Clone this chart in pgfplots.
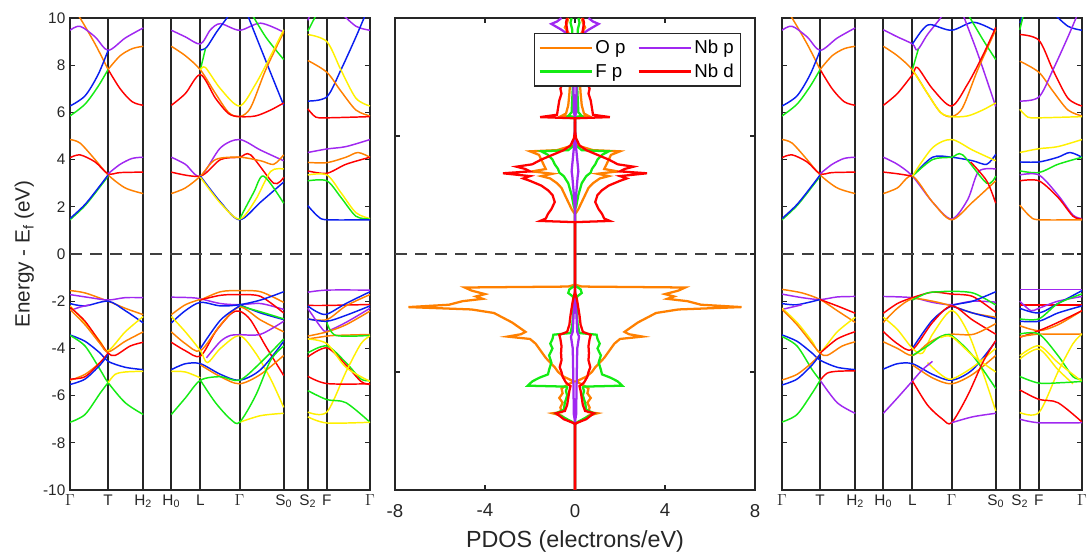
\documentclass[border=0pt]{standalone}
\usepackage{pgfplots}
\pgfplotsset{compat=1.18}
\usepackage{pgfplotstable}
\usepackage{fontspec}
\setmainfont{Liberation Sans}
\definecolor{cor}{RGB}{255,128,0}
\definecolor{cgr}{RGB}{20,235,20}
\definecolor{cpu}{RGB}{160,40,240}
\definecolor{cye}{RGB}{255,240,0}
\definecolor{cbl}{RGB}{10,30,240}
\definecolor{cre}{RGB}{255,0,0}
\definecolor{frm}{RGB}{38,38,38}

\pgfplotstableread{
x y
0 -10
0 -7.2
0.1 -7.15
0.4 -7.0
0.6 -6.85
1.0 -6.75
0.6 -6.7
0.65 -6.5
0.55 -6.3
0.7 -6.1
0.55 -5.9
0.6 -5.7
0.35 -5.55
0.05 -5.4
0.5 -5.2
0.75 -5.0
0.9 -4.8
1.1 -4.6
1.3 -4.4
1.45 -4.2
1.6 -4.0
1.75 -3.8
2.0 -3.6
3.0 -3.5
2.4 -3.4
2.2 -3.3
2.5 -3.1
2.8 -2.9
3.2 -2.7
3.6 -2.5
4.6 -2.35
7.4 -2.25
5.6 -2.15
5.0 -2.0
4.1 -1.9
4.4 -1.8
4.0 -1.7
4.6 -1.55
4.9 -1.42
0.3 -1.38
0 -1.3
0 1.7
0.05 1.75
0.15 1.9
0.3 2.2
0.45 2.5
0.6 2.8
0.8 3.0
1.1 3.2
1.5 3.3
1.0 3.4
1.9 3.5
1.3 3.6
1.4 3.8
1.5 4.0
1.6 4.2
2.0 4.35
0.8 4.4
0.1 4.6
0.05 4.8
0 5.0
0 5.8
0.6 5.85
0.4 5.95
0.3 6.3
0.25 6.8
0.2 7.5
0.2 8.5
0.25 9.3
0.45 9.6
0.35 9.8
0.3 10
}\tOr
\pgfplotstableread{
x y
0 -10
0 -7.2
0.15 -7.1
0.55 -6.9
0.85 -6.75
0.5 -6.6
0.45 -6.3
0.35 -6.0
0.4 -5.8
0.35 -5.65
0.4 -5.62
2.1 -5.58
1.9 -5.4
1.6 -5.25
1.2 -5.1
1.15 -4.9
1.05 -4.6
1.15 -4.3
1.0 -4.0
1.1 -3.8
1.0 -3.6
0.96 -3.42
0.2 -3.35
0.12 -3.0
0.08 -2.5
0.05 -2.0
0.1 -1.8
0.3 -1.65
0.25 -1.5
0.1 -1.4
0 -1.35
0 1.9
0.05 2.0
0.15 2.5
0.3 3.0
0.5 3.3
0.7 3.45
0.75 3.6
0.9 3.8
1.0 4.0
1.2 4.2
1.5 4.35
0.3 4.4
0.05 4.6
0 5.0
0 5.8
0.3 5.85
0.15 6.0
0.1 7.0
0.12 9.5
0.2 9.8
0.15 10
}\tGr
\pgfplotstableread{
x y
0 -10
0 -7.1
0.05 -6.8
0.08 -5.0
0.1 -4.0
0.18 -3.5
0.1 -3.3
0.06 -2.5
0.03 -2.0
0 -1.5
0 1.8
0.05 2.5
0.12 3.3
0.15 3.5
0.1 4.0
0.05 4.5
0.02 5.0
0 5.8
0.05 6.0
0.08 8.0
0.15 9.2
0.6 9.5
1.05 9.75
0.8 9.85
0.6 10
}\tPu
\pgfplotstableread{
x y
0 -10
0 -7.2
0.1 -7.15
0.5 -7.0
0.7 -6.85
0.85 -6.75
0.45 -6.65
0.35 -6.4
0.3 -6.1
0.25 -5.8
0.2 -5.6
0.4 -5.45
0.55 -5.2
0.6 -5.0
0.68 -4.8
0.6 -4.5
0.62 -4.2
0.6 -3.9
0.65 -3.6
0.7 -3.43
0.35 -3.3
0.25 -3.0
0.2 -2.6
0.15 -2.3
0.1 -2.0
0.05 -1.8
0 -1.6
0 1.35
1.55 1.4
1.3 1.5
1.2 1.7
1.05 1.9
0.9 2.2
1.0 2.5
1.2 2.7
1.5 2.9
2.0 3.1
2.3 3.2
2.0 3.3
3.2 3.42
2.0 3.5
2.2 3.6
2.6 3.7
1.9 3.8
1.5 4.0
1.0 4.2
0.5 4.4
0.2 4.6
0.05 4.9
0 5.2
0 5.75
1.55 5.8
0.8 5.9
0.75 6.2
0.7 6.5
0.6 6.8
0.65 7.0
0.45 7.5
0.35 8.5
0.35 9.5
0.4 9.8
0.35 10
}\tRe

\pgfplotsset{
  bnd/.style={line width=1.1pt, smooth, no markers, forget plot},
  zl/.style={color=black!75, line width=1.5pt, dash pattern=on 9pt off 6pt, forget plot},
  pd/.style={line width=1.7pt, no markers, forget plot},
  base/.style={
    scale only axis, height=354pt, ymin=-10, ymax=10,
    tick align=inside, major tick length=3.75pt,
    axis line style={frm, line width=0.9pt},
    tick style={frm, line width=0.8pt},
    ticklabel style={font=\fontsize{11.5}{13}\selectfont, text=frm},
    label style={font=\fontsize{15.5}{18}\selectfont, text=frm},
  },
  band/.style={
    base, width=225pt, xmin=0, xmax=299,
    xtick={0,38,73,101,130,169,213,237,256,299},
    xticklabels={$\Gamma$,T,H\textsubscript{2},H\textsubscript{0},L,$\Gamma$,S\textsubscript{0},S\textsubscript{2},F,$\Gamma$},
    xmajorgrids, major grid style={frm, line width=1.5pt},
    ytick={-10,-8,...,10},
  },
}

\begin{document}
\begin{tikzpicture}
\path[use as bounding box] (0,0) rectangle (816.75pt,416.25pt);

% ---------------- left band structure ----------------
\begin{axis}[band, at={(52.5pt,48.75pt)}, anchor=south west,
  yticklabels={-10,-8,-6,-4,-2,0,2,4,6,8,10},
  ylabel={Energy - E\textsubscript{f} (eV)}]
% seg A conduction
\addplot[bnd,cor] coordinates {(0,10.6)(10,10.0)(25,8.9)(38,7.82)};
\addplot[bnd,cre] coordinates {(38,7.82)(50,7.0)(62,6.45)(73,6.3)};
\addplot[bnd,cpu] coordinates {(0,9.48)(10,9.65)(25,9.2)(38,8.63)(55,9.15)(73,9.58)};
\addplot[bnd,cbl] coordinates {(0,6.27)(15,6.7)(28,7.6)(38,8.63)};
\addplot[bnd,cgr] coordinates {(0,5.85)(15,6.35)(28,7.1)(38,7.82)};
\addplot[bnd,cor] coordinates {(38,7.82)(50,8.4)(62,8.7)(73,8.8)};
\addplot[bnd,cor] coordinates {(0,4.85)(10,4.7)(25,4.0)(38,3.35)(55,2.8)(73,2.56)};
\addplot[bnd,cre] coordinates {(0,4.08)(10,4.2)(25,3.9)(38,3.4)(50,3.45)(73,3.47)};
\addplot[bnd,cpu] coordinates {(38,3.4)(50,3.8)(62,4.05)(73,4.1)};
\addplot[bnd,cgr] coordinates {(0,1.45)(15,2.05)(30,2.85)(38,3.3)};
\addplot[bnd,cbl] coordinates {(0,1.5)(15,2.1)(30,2.9)(38,3.35)};
% seg A valence
\addplot[bnd,cor] coordinates {(0,-1.55)(15,-1.65)(38,-2.0)(55,-2.3)(73,-2.57)};
\addplot[bnd,cpu] coordinates {(0,-1.72)(20,-1.85)(38,-1.95)(55,-1.85)(73,-1.85)};
\addplot[bnd,cbl] coordinates {(0,-2.1)(15,-2.2)(38,-2.0)(55,-2.4)(73,-2.92)};
\addplot[bnd,cpu] coordinates {(0,-2.4)(10,-2.25)(20,-2.15)};
\addplot[bnd,cye] coordinates {(0,-2.2)(15,-2.9)(30,-3.7)(38,-4.1)(55,-3.3)(73,-2.65)};
\addplot[bnd,cre] coordinates {(0,-2.25)(15,-2.85)(30,-3.75)(38,-4.2)(45,-4.3)(60,-3.9)(73,-3.74)};
\addplot[bnd,cor] coordinates {(0,-2.35)(15,-3.0)(30,-3.8)(38,-4.15)(55,-3.7)(73,-3.3)};
\addplot[bnd,cbl] coordinates {(0,-3.43)(15,-3.7)(30,-4.2)(38,-4.55)(55,-4.8)(73,-4.9)};
\addplot[bnd,cgr] coordinates {(0,-3.45)(15,-3.9)(30,-4.9)(38,-5.45)(55,-6.3)(73,-6.8)};
\addplot[bnd,cgr] coordinates {(0,-7.13)(15,-6.8)(30,-5.9)(38,-5.45)};
\addplot[bnd,cye] coordinates {(38,-5.45)(45,-5.1)(55,-5.0)(73,-4.97)};
\addplot[bnd,cor] coordinates {(0,-5.35)(15,-5.1)(30,-4.6)(38,-4.25)};
\addplot[bnd,cre] coordinates {(0,-5.3)(15,-5.2)(30,-4.6)(38,-4.2)};
\addplot[bnd,cbl] coordinates {(0,-5.53)(15,-5.3)(30,-4.7)(38,-4.25)};
% seg B conduction
\addplot[bnd,cpu] coordinates {(101,9.48)(115,9.2)(130,8.9)(140,9.5)(150,9.76)(169,9.48)(190,9.78)(213,9.4)};
\addplot[bnd,cbl] coordinates {(130,8.65)(136,8.75)(146,9.4)(158,10.1)(165,10.6)};
\addplot[bnd,cbl] coordinates {(173,10.6)(180,9.8)(195,8.2)(213,6.3)};
\addplot[bnd,cgr] coordinates {(130,7.82)(135,8.7)};
\addplot[bnd,cgr] coordinates {(178,10.4)(195,9.2)(213,8.24)};
\addplot[bnd,cor] coordinates {(101,8.8)(115,8.4)(130,7.8)(145,6.8)(158,6.0)(169,5.82)(180,6.2)(195,7.8)(213,9.4)};
\addplot[bnd,cre] coordinates {(101,6.3)(115,6.8)(130,7.6)(145,6.6)(158,5.95)(169,5.82)(185,5.85)(200,6.1)(213,6.4)};
\addplot[bnd,cye] coordinates {(130,7.8)(135,7.9)(150,7.0)(169,6.27)(185,7.2)(200,8.4)(213,9.5)};
\addplot[bnd,cpu] coordinates {(101,4.1)(115,3.8)(130,3.3)(150,4.5)(169,4.85)(190,4.4)(213,3.95)};
\addplot[bnd,cre] coordinates {(101,3.47)(130,3.3)(150,4.0)(169,4.1)(180,4.2)(203,3.0)(213,3.25)};
\addplot[bnd,cor] coordinates {(101,2.56)(115,2.8)(130,3.3)(145,4.0)(169,4.1)(190,3.95)(203,3.8)(213,4.2)};
\addplot[bnd,cbl] coordinates {(130,3.3)(150,2.2)(169,1.45)(190,2.2)(213,3.05)};
\addplot[bnd,cye] coordinates {(130,3.25)(150,2.15)(169,1.48)(185,2.3)(200,3.5)(213,3.6)};
\addplot[bnd,cgr] coordinates {(169,1.48)(183,2.6)(193,3.3)(213,2.15)};
% seg B valence
\addplot[bnd,cpu] coordinates {(101,-1.83)(120,-1.85)(130,-1.9)(150,-2.1)(169,-2.15)(190,-2.1)(213,-2.35)};
\addplot[bnd,cor] coordinates {(130,-1.95)(150,-1.6)(169,-1.55)(190,-1.6)(213,-2.05)};
\addplot[bnd,cre] coordinates {(130,-1.95)(150,-1.75)(169,-1.72)(190,-1.8)(213,-2.5)};
\addplot[bnd,cbl] coordinates {(101,-2.92)(115,-2.4)(130,-2.05)(150,-2.2)(169,-2.15)(190,-1.95)(213,-1.6)};
\addplot[bnd,cor] coordinates {(101,-2.57)(115,-2.15)(130,-1.92)};
\addplot[bnd,cbl] coordinates {(169,-2.15)(190,-2.5)(213,-2.78)};
\addplot[bnd,cgr] coordinates {(169,-2.2)(190,-2.45)(213,-2.75)};
\addplot[bnd,cre] coordinates {(101,-3.74)(115,-4.1)(130,-4.33)(145,-3.3)(160,-2.55)(169,-2.42)(180,-2.8)(195,-3.9)(213,-5.15)};
\addplot[bnd,cor] coordinates {(101,-3.3)(115,-3.8)(130,-4.1)(150,-3.0)(169,-2.25)(190,-2.8)(213,-3.3)};
\addplot[bnd,cye] coordinates {(101,-2.65)(115,-3.3)(130,-4.1)(137,-4.6)(150,-4.0)(169,-3.46)(185,-4.2)(200,-5.3)(213,-6.5)};
\addplot[bnd,cye] coordinates {(101,-4.97)(115,-5.0)(130,-5.25)};
\addplot[bnd,cye] coordinates {(169,-7.13)(190,-6.85)(213,-6.75)};
\addplot[bnd,cpu] coordinates {(136,-4.4)(150,-3.7)(160,-3.45)(169,-3.42)(190,-3.4)(213,-2.85)};
\addplot[bnd,cbl] coordinates {(101,-4.9)(115,-4.65)(130,-4.65)(150,-5.1)(169,-5.35)(190,-4.9)(213,-3.7)};
\addplot[bnd,cbl] coordinates {(130,-4.0)(150,-2.8)(169,-2.2)};
\addplot[bnd,cor] coordinates {(130,-4.7)(150,-5.2)(169,-5.5)(190,-5.1)(213,-4.3)};
\addplot[bnd,cgr] coordinates {(101,-6.8)(115,-6.1)(130,-5.35)(150,-5.2)(169,-5.35)(190,-4.6)(213,-3.6)};
\addplot[bnd,cgr] coordinates {(130,-5.35)(145,-6.3)(160,-7.0)(169,-7.13)(185,-6.0)(200,-4.5)(213,-3.9)};
% seg C conduction
\addplot[bnd,cgr] coordinates {(237,9.44)(245,10.1)};
\addplot[bnd,cpu] coordinates {(237,9.9)(241,10.3)};
\addplot[bnd,cpu] coordinates {(268,10.3)(285,9.65)(299,9.48)};
\addplot[bnd,cbl] coordinates {(237,6.48)(256,6.66)(270,7.8)(285,9.2)(295,10.2)};
\addplot[bnd,cye] coordinates {(237,9.3)(256,9.0)(270,7.8)(285,6.6)(299,6.27)};
\addplot[bnd,cor] coordinates {(237,8.2)(256,7.7)(270,6.9)(285,6.1)(299,5.85)};
\addplot[bnd,cre] coordinates {(237,6.15)(245,5.8)(256,5.77)(299,5.82)};
\addplot[bnd,cpu] coordinates {(237,4.3)(256,4.45)(275,4.55)(299,4.85)};
\addplot[bnd,cor] coordinates {(237,3.88)(256,3.87)(275,4.1)(287,4.3)(299,4.1)};
\addplot[bnd,cre] coordinates {(237,3.52)(256,3.42)(275,3.8)(299,4.1)};
\addplot[bnd,cye] coordinates {(237,3.35)(256,3.35)(270,2.6)(285,1.75)(299,1.5)};
\addplot[bnd,cgr] coordinates {(237,3.1)(256,3.1)(270,2.4)(285,1.6)(299,1.48)};
\addplot[bnd,cbl] coordinates {(237,2.05)(247,1.6)(256,1.45)(299,1.45)};
% seg C valence
\addplot[bnd,cpu] coordinates {(237,-1.62)(256,-1.53)(299,-1.53)};
\addplot[bnd,cre] coordinates {(237,-2.18)(256,-2.18)(299,-2.14)};
\addplot[bnd,cbl] coordinates {(237,-2.2)(246,-2.45)(256,-2.55)(275,-2.1)(299,-1.6)};
\addplot[bnd,cor] coordinates {(237,-2.75)(256,-2.78)(275,-2.2)(299,-1.72)};
\addplot[bnd,cbl] coordinates {(237,-2.75)(256,-2.85)(275,-2.6)(299,-2.2)};
\addplot[bnd,cpu] coordinates {(237,-2.3)(250,-3.1)(256,-3.27)(275,-2.9)(299,-2.3)};
\addplot[bnd,cor] coordinates {(237,-3.48)(256,-3.3)(275,-3.0)(299,-2.42)};
\addplot[bnd,cor] coordinates {(237,-3.6)(256,-3.48)(265,-3.45)(299,-3.41)};
\addplot[bnd,cgr] coordinates {(256,-2.9)(265,-3.45)(299,-3.45)};
\addplot[bnd,cgr] coordinates {(237,-4.19)(256,-3.9)(275,-4.6)(290,-5.3)(299,-5.36)};
\addplot[bnd,cre] coordinates {(237,-4.36)(256,-3.98)(275,-4.7)(290,-5.4)(299,-5.53)};
\addplot[bnd,cye] coordinates {(237,-3.6)(256,-3.8)(275,-4.8)(299,-5.4)};
\addplot[bnd,cye] coordinates {(237,-6.7)(256,-6.7)(275,-5.0)(290,-3.8)(299,-3.48)};
\addplot[bnd,cre] coordinates {(237,-5.18)(256,-5.49)(299,-5.5)};
\addplot[bnd,cgr] coordinates {(237,-5.79)(256,-6.17)(275,-6.3)(299,-7.13)};
\addplot[bnd,cye] coordinates {(237,-6.9)(256,-7.16)(299,-7.13)};
\addplot[zl] coordinates {(0,0)(299,0)};
\end{axis}

% ---------------- PDOS ----------------
\begin{axis}[base, at={(296.25pt,48.75pt)}, anchor=south west, width=270pt,
  xmin=-8, xmax=8, xtick={-8,-4,0,4,8}, xticklabels={-8,-4,0,4,8},
  ytick={-5,0,5}, yticklabels={},
  xticklabel style={font=\fontsize{14}{16}\selectfont, yshift=-7pt},
  xlabel={PDOS (electrons/eV)},
  xlabel style={font=\fontsize{17.5}{20}\selectfont, yshift=-3pt},
  legend columns=2,
  legend cell align=left,
  legend style={at={(0.961,0.968)}, anchor=north east, draw=frm, line width=0.8pt, fill=white,
    font=\fontsize{14}{16}\selectfont, inner xsep=3pt, inner ysep=3pt, row sep=2pt,
    /tikz/every even column/.append style={column sep=7pt}},
  legend image code/.code={\draw[#1] (0pt,0pt) -- (39pt,0pt);},
]
\addplot[zl] coordinates {(-8,0)(8,0)};
\addplot[pd,cor] table[x=x,y=y] {\tOr};
\addplot[pd,cor] table[x expr=-\thisrow{x},y=y] {\tOr};
\addplot[pd,cgr] table[x=x,y=y] {\tGr};
\addplot[pd,cgr] table[x expr=-\thisrow{x},y=y] {\tGr};
\addplot[pd,cpu] table[x=x,y=y] {\tPu};
\addplot[pd,cpu] table[x expr=-\thisrow{x},y=y] {\tPu};
\addplot[pd,cre] table[x=x,y=y] {\tRe};
\addplot[pd,cre] table[x expr=-\thisrow{x},y=y] {\tRe};
\addlegendimage{cor, line width=1.7pt}\addlegendentry{O p}
\addlegendimage{cpu, line width=1.7pt}\addlegendentry{Nb p}
\addlegendimage{cgr, line width=1.7pt}\addlegendentry{F p}
\addlegendimage{cre, line width=1.7pt}\addlegendentry{Nb d}
\end{axis}

% ---------------- right band structure ----------------
\begin{axis}[band, at={(586.5pt,48.75pt)}, anchor=south west, yticklabels={}]
% seg A conduction
\addplot[bnd,cor] coordinates {(0,10.6)(10,10.0)(25,8.9)(38,7.82)};
\addplot[bnd,cre] coordinates {(38,7.82)(50,7.0)(62,6.45)(73,6.3)};
\addplot[bnd,cpu] coordinates {(0,9.48)(10,9.65)(25,9.2)(38,8.63)(55,9.15)(73,9.58)};
\addplot[bnd,cbl] coordinates {(0,6.27)(15,6.7)(28,7.6)(38,8.63)};
\addplot[bnd,cgr] coordinates {(0,5.85)(15,6.35)(28,7.1)(38,7.82)};
\addplot[bnd,cor] coordinates {(38,7.82)(50,8.4)(62,8.7)(73,8.8)};
\addplot[bnd,cor] coordinates {(0,4.85)(10,4.7)(25,4.0)(38,3.35)(55,2.8)(73,2.56)};
\addplot[bnd,cre] coordinates {(0,4.08)(10,4.2)(25,3.9)(38,3.4)(50,3.45)(73,3.47)};
\addplot[bnd,cpu] coordinates {(38,3.4)(50,3.8)(62,4.05)(73,4.1)};
\addplot[bnd,cgr] coordinates {(0,1.45)(15,2.05)(30,2.85)(38,3.3)};
\addplot[bnd,cbl] coordinates {(0,1.5)(15,2.1)(30,2.9)(38,3.35)};
% seg A valence
\addplot[bnd,cor] coordinates {(0,-1.5)(20,-1.65)(38,-1.93)(55,-2.4)(73,-2.9)};
\addplot[bnd,cpu] coordinates {(0,-1.7)(20,-1.85)(38,-1.93)(55,-1.82)(73,-1.8)};
\addplot[bnd,cbl] coordinates {(0,-2.1)(15,-2.15)(38,-1.93)};
\addplot[bnd,cre] coordinates {(38,-1.93)(55,-2.2)(73,-2.51)};
\addplot[bnd,cpu] coordinates {(0,-2.35)(10,-2.25)(20,-2.15)};
\addplot[bnd,cye] coordinates {(0,-2.3)(15,-2.9)(30,-3.7)(38,-4.15)(55,-3.3)(73,-2.68)};
\addplot[bnd,cor] coordinates {(0,-2.35)(15,-3.0)(30,-3.8)(38,-4.2)(45,-4.3)(60,-3.9)(73,-3.72)};
\addplot[bnd,cre] coordinates {(38,-4.2)(55,-3.6)(73,-3.29)};
\addplot[bnd,cbl] coordinates {(0,-3.43)(15,-3.7)(30,-4.2)(38,-4.5)(55,-4.8)(73,-4.9)};
\addplot[bnd,cgr] coordinates {(0,-3.5)(15,-3.9)(30,-4.9)(38,-5.35)};
\addplot[bnd,cpu] coordinates {(38,-5.35)(55,-6.3)(73,-6.75)};
\addplot[bnd,cgr] coordinates {(0,-7.12)(15,-6.8)(30,-5.9)(38,-5.35)};
\addplot[bnd,cre] coordinates {(38,-5.35)(45,-5.05)(55,-4.97)(73,-4.95)};
\addplot[bnd,cor] coordinates {(0,-5.34)(15,-5.1)(30,-4.6)(38,-4.25)};
\addplot[bnd,cbl] coordinates {(0,-5.55)(15,-5.3)(30,-4.7)(38,-4.25)};
% seg B conduction
\addplot[bnd,cpu] coordinates {(101,9.5)(115,9.2)(130,8.9)(135,8.65)(145,9.3)(158,10.0)(165,10.5)};
\addplot[bnd,cbl] coordinates {(130,8.9)(140,9.5)(148,9.72)(169,9.48)(191,9.82)(213,9.44)};
\addplot[bnd,cpu] coordinates {(178,10.4)(195,8.5)(213,6.25)};
\addplot[bnd,cgr] coordinates {(130,7.82)(136,8.7)};
\addplot[bnd,cgr] coordinates {(182,10.4)(200,9.1)(213,8.24)};
\addplot[bnd,cor] coordinates {(101,8.8)(115,8.4)(130,7.8)(145,6.8)(158,6.0)(169,5.82)(180,6.2)(195,7.8)(213,9.5)};
\addplot[bnd,cre] coordinates {(101,6.3)(115,6.8)(130,7.6)(135,7.9)(150,7.0)(169,6.27)(185,7.2)(200,8.4)(213,9.6)};
\addplot[bnd,cye] coordinates {(130,7.8)(145,6.8)(158,6.0)(169,5.82)(185,5.85)(200,6.1)(213,6.4)};
\addplot[bnd,cpu] coordinates {(101,4.1)(115,3.8)(130,3.3)(150,2.2)(169,1.48)(185,2.3)(196,3.5)(213,3.6)};
\addplot[bnd,cor] coordinates {(101,2.56)(115,2.8)(130,3.3)(150,2.2)(169,1.45)(190,2.2)(213,3.1)};
\addplot[bnd,cre] coordinates {(101,3.47)(115,3.4)(130,3.3)};
\addplot[bnd,cbl] coordinates {(130,3.3)(150,4.1)(169,4.1)(190,3.95)(204,3.8)(213,4.22)};
\addplot[bnd,cgr] coordinates {(130,3.3)(150,4.0)(169,4.1)(180,4.2)(204,3.0)(213,3.3)};
\addplot[bnd,cre] coordinates {(188,3.9)(204,3.1)(213,2.15)};
\addplot[bnd,cye] coordinates {(130,3.3)(150,4.5)(169,4.85)(190,4.4)(213,3.95)};
% seg B valence
\addplot[bnd,cpu] coordinates {(101,-1.8)(130,-1.85)(150,-2.05)(169,-2.15)(190,-2.0)(213,-2.04)};
\addplot[bnd,cre] coordinates {(101,-2.51)(115,-2.1)(130,-1.85)(150,-1.62)(169,-1.7)(190,-1.8)(213,-2.47)};
\addplot[bnd,cor] coordinates {(101,-2.9)(115,-2.3)(130,-1.9)(150,-2.0)(169,-2.2)(190,-2.5)(213,-2.68)};
\addplot[bnd,cgr] coordinates {(130,-1.95)(145,-1.65)(158,-1.6)(169,-1.58)(191,-1.66)(213,-2.16)};
\addplot[bnd,cbl] coordinates {(130,-4.0)(150,-2.8)(169,-2.2)(190,-2.0)(213,-1.6)};
\addplot[bnd,cbl] coordinates {(169,-2.2)(190,-2.5)(213,-2.75)};
\addplot[bnd,cre] coordinates {(101,-3.29)(115,-3.8)(130,-4.05)(150,-2.9)(169,-2.2)(190,-2.8)(213,-3.4)};
\addplot[bnd,cye] coordinates {(101,-2.68)(115,-3.2)(130,-4.0)(140,-4.2)(150,-3.4)(169,-2.4)(185,-3.3)(200,-5.0)(213,-6.65)};
\addplot[bnd,cor] coordinates {(101,-3.72)(115,-4.0)(130,-4.3)(145,-3.8)(158,-3.5)(169,-3.4)(191,-3.4)(213,-2.95)};
\addplot[bnd,cbl] coordinates {(101,-4.88)(115,-4.65)(130,-4.65)(150,-5.1)(169,-5.35)(190,-4.9)(213,-3.7)};
\addplot[bnd,cor] coordinates {(130,-4.7)(150,-5.25)(169,-5.5)(190,-5.1)(213,-4.3)};
\addplot[bnd,cye] coordinates {(145,-4.6)(158,-5.1)(169,-5.3)(190,-4.8)(213,-4.0)};
\addplot[bnd,cgr] coordinates {(130,-4.3)(145,-3.9)(158,-3.5)(169,-3.46)(190,-4.3)(213,-5.7)};
\addplot[bnd,cye] coordinates {(158,-3.55)(169,-3.5)(190,-4.3)(213,-5.0)};
\addplot[bnd,cpu] coordinates {(101,-6.75)(115,-6.1)(130,-5.38)(140,-4.9)(150,-4.55)};
\addplot[bnd,cre] coordinates {(130,-5.38)(145,-6.4)(160,-7.0)(169,-7.15)(185,-6.0)(200,-4.6)(213,-3.67)};
\addplot[bnd,cpu] coordinates {(169,-7.15)(190,-6.9)(213,-6.75)};
% seg C conduction
\addplot[bnd,cbl] coordinates {(237,9.8)(242,10.3)};
\addplot[bnd,cgr] coordinates {(237,9.5)(241,10.2)};
\addplot[bnd,cbl] coordinates {(268,10.3)(285,9.65)(299,9.48)};
\addplot[bnd,cre] coordinates {(237,9.3)(256,9.06)(270,7.8)(285,6.6)(299,6.27)};
\addplot[bnd,cor] coordinates {(237,8.17)(256,7.7)(270,6.9)(285,6.1)(299,5.85)};
\addplot[bnd,cpu] coordinates {(237,6.48)(256,6.65)(270,7.8)(285,9.2)(295,10.2)};
\addplot[bnd,cye] coordinates {(237,6.13)(245,5.8)(256,5.77)(299,5.82)};
\addplot[bnd,cye] coordinates {(237,4.3)(256,4.46)(275,4.55)(299,4.85)};
\addplot[bnd,cbl] coordinates {(237,3.9)(256,3.9)(275,4.1)(287,4.3)(299,4.1)};
\addplot[bnd,cgr] coordinates {(237,3.52)(256,3.45)(275,3.8)(299,4.1)};
\addplot[bnd,cpu] coordinates {(237,3.35)(256,3.35)(275,2.5)(290,1.65)(299,1.5)};
\addplot[bnd,cre] coordinates {(237,3.1)(256,3.1)(275,2.4)(290,1.6)(299,1.48)};
\addplot[bnd,cor] coordinates {(237,2.07)(247,1.6)(256,1.45)(299,1.45)};
% seg C valence
\addplot[bnd,cpu] coordinates {(237,-1.5)(256,-1.5)(299,-1.5)};
\addplot[bnd,cre] coordinates {(237,-2.16)(256,-2.16)(299,-2.16)};
\addplot[bnd,cpu] coordinates {(237,-2.0)(248,-2.4)(256,-2.3)(275,-2.0)(299,-1.8)};
\addplot[bnd,cbl] coordinates {(237,-2.3)(256,-2.5)(275,-2.1)(299,-1.55)};
\addplot[bnd,cgr] coordinates {(237,-2.75)(256,-2.75)(275,-2.1)(299,-1.69)};
\addplot[bnd,cbl] coordinates {(237,-2.85)(256,-2.85)(275,-2.5)(299,-2.2)};
\addplot[bnd,cor] coordinates {(237,-3.04)(256,-3.25)(275,-3.0)(299,-2.4)};
\addplot[bnd,cre] coordinates {(237,-3.53)(256,-3.25)(275,-2.9)(299,-2.4)};
\addplot[bnd,cor] coordinates {(237,-3.5)(256,-3.39)(265,-3.4)(299,-3.39)};
\addplot[bnd,cgr] coordinates {(237,-3.39)(256,-3.39)(275,-4.3)(290,-5.2)(299,-5.3)};
\addplot[bnd,cye] coordinates {(237,-4.31)(256,-3.89)(275,-4.6)(299,-5.4)};
\addplot[bnd,cye] coordinates {(237,-4.45)(256,-4.03)(275,-4.9)(290,-5.5)};
\addplot[bnd,cye] coordinates {(237,-6.72)(256,-6.72)(275,-5.0)(290,-3.8)(299,-3.39)};
\addplot[bnd,cgr] coordinates {(237,-5.19)(256,-5.47)(280,-5.45)(299,-5.4)};
\addplot[bnd,cre] coordinates {(237,-5.76)(256,-6.16)(275,-6.3)(299,-7.12)};
\addplot[bnd,cpu] coordinates {(237,-7.0)(256,-7.15)(299,-7.15)};
\addplot[zl] coordinates {(0,0)(299,0)};
\end{axis}
\end{tikzpicture}
\end{document}
